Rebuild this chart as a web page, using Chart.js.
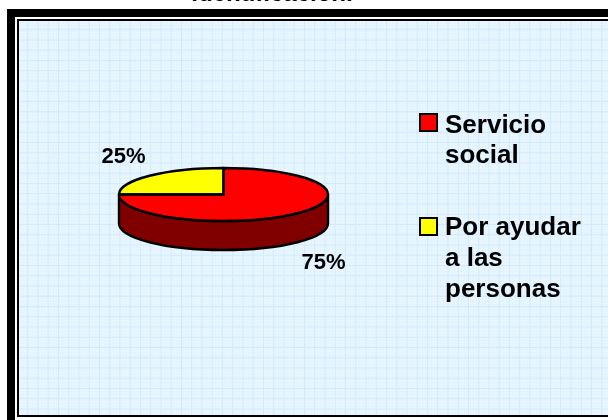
<!DOCTYPE html>
<html>
<head>
<meta charset="utf-8">
<style>
html,body{margin:0;padding:0;background:#fff;width:608px;height:420px;overflow:hidden}
#wrap{position:relative;width:608px;height:420px;overflow:hidden}
#outer{position:absolute;left:7px;top:9px;width:601px;height:411px;background:#000}
#white{position:absolute;left:15px;top:17px;width:593px;height:403px;background:#fff}
#inner{position:absolute;left:17px;top:19px;width:591px;height:398px;background:#000}
#plot{position:absolute;left:19px;top:21px;width:589px;height:394px;
 background-color:#e4f4ff;
 background-image:
  linear-gradient(to right,#d0eaff 1px,transparent 1px),
  linear-gradient(to bottom,#d0eaff 1px,transparent 1px),
  linear-gradient(45deg,#eff9ff 25%,transparent 25%,transparent 75%,#eff9ff 75%);
 background-size:10.25px 10.25px,10.25px 10.25px,3px 3px;
 background-position:-2px -2px,-2px -2px,0 0}
#title{position:absolute;left:0;width:544px;top:-19px;line-height:24px;text-align:center;font-family:"Liberation Sans",Arial,sans-serif;font-weight:bold;font-size:24px;color:#000;white-space:nowrap}
canvas{position:absolute;left:0;top:0}
</style>
</head>
<body>
<div id="wrap">
<div id="title">identificación.</div>
<div id="outer"></div><div id="white"></div><div id="inner"></div><div id="plot"></div>
<canvas id="c" width="608" height="420"></canvas>
</div>
<script src="https://cdn.jsdelivr.net/npm/chart.js@4/dist/chart.umd.min.js"></script>
<script>
const categories = ["Servicio social","Por ayudar a las personas"];
const legendLines = [["Servicio","social"],["Por ayudar","a las","personas"]];
const values = [75,25];
const sliceColors = ["#ff0000","#ffff00"];
const sideColor = "#800000";
const percentLabels = ["75%","25%"];

const SQUASH = 26.5/104.5, DEPTH = 29;
const FONT = '"Liberation Sans",Arial,sans-serif';

function sidePath(ctx,x,y,r){
  ctx.beginPath();
  ctx.moveTo(x-r,y);
  ctx.lineTo(x-r,y+DEPTH);
  ctx.ellipse(x,y+DEPTH,r,r*SQUASH,0,Math.PI,0,true);
  ctx.lineTo(x+r,y);
  ctx.ellipse(x,y,r,r*SQUASH,0,0,Math.PI,false);
  ctx.closePath();
}
const pie3d = {
  id:'pie3d',
  beforeDatasetsDraw(chart){
    const a = chart.getDatasetMeta(0).data[0];
    const ctx = chart.ctx;
    ctx.save();
    sidePath(ctx,a.x,a.y,a.outerRadius);
    ctx.fillStyle = sideColor;
    ctx.fill();
    ctx.lineWidth = 2.4; ctx.strokeStyle = '#000'; ctx.lineJoin='round';
    ctx.stroke();
    ctx.restore();
    ctx.save();
    ctx.translate(a.x,a.y);
    ctx.scale(1,SQUASH);
    ctx.translate(-a.x,-a.y);
  },
  afterDatasetsDraw(chart){
    const ctx = chart.ctx;
    ctx.restore();
    const arcs = chart.getDatasetMeta(0).data;
    ctx.save();
    ctx.lineWidth = 2.4; ctx.strokeStyle = '#000'; ctx.lineJoin='round';
    arcs.forEach(a=>{
      const r = a.outerRadius;
      ctx.beginPath();
      ctx.moveTo(a.x,a.y);
      ctx.ellipse(a.x,a.y,r,r*SQUASH,0,a.startAngle,a.endAngle);
      ctx.closePath();
      ctx.stroke();
    });
    ctx.fillStyle='#000';
    ctx.font='bold 22px '+FONT;
    ctx.textAlign='center';
    ctx.textBaseline='alphabetic';
    arcs.forEach((a,i)=>{
      const mid=(a.startAngle+a.endAngle)/2;
      const dx=Math.cos(mid)*a.outerRadius*1.353;
      const dy=Math.sin(mid)>0 ? 74.5 : -31.5;
      ctx.fillText(percentLabels[i],a.x+dx,a.y+dy);
    });
    ctx.restore();
  },
  afterDraw(chart){
    const ctx = chart.ctx;
    const blocks = [{box:114,base:133,step:30},{box:218,base:235,step:31}];
    ctx.save();
    legendLines.forEach((lines,i)=>{
      const b = blocks[i];
      ctx.fillStyle = sliceColors[i];
      ctx.fillRect(420,b.box,17,17);
      ctx.lineWidth = 2; ctx.strokeStyle='#000';
      ctx.strokeRect(420,b.box,17,17);
      ctx.fillStyle='#000';
      ctx.font='bold 26px '+FONT;
      ctx.textAlign='left';
      ctx.textBaseline='alphabetic';
      lines.forEach((t,j)=>ctx.fillText(t,445,b.base+j*b.step));
    });
    ctx.restore();
  }
};
new Chart(document.getElementById('c'),{
  type:'pie',
  data:{labels:categories,datasets:[{data:values,backgroundColor:sliceColors,borderWidth:0,radius:104.5}]},
  options:{
    responsive:false,animation:false,
    layout:{padding:{left:28,right:189,top:0,bottom:31}},
    plugins:{tooltip:{enabled:false},legend:{display:false}}
  },
  plugins:[pie3d]
});
</script>
</body>
</html>
